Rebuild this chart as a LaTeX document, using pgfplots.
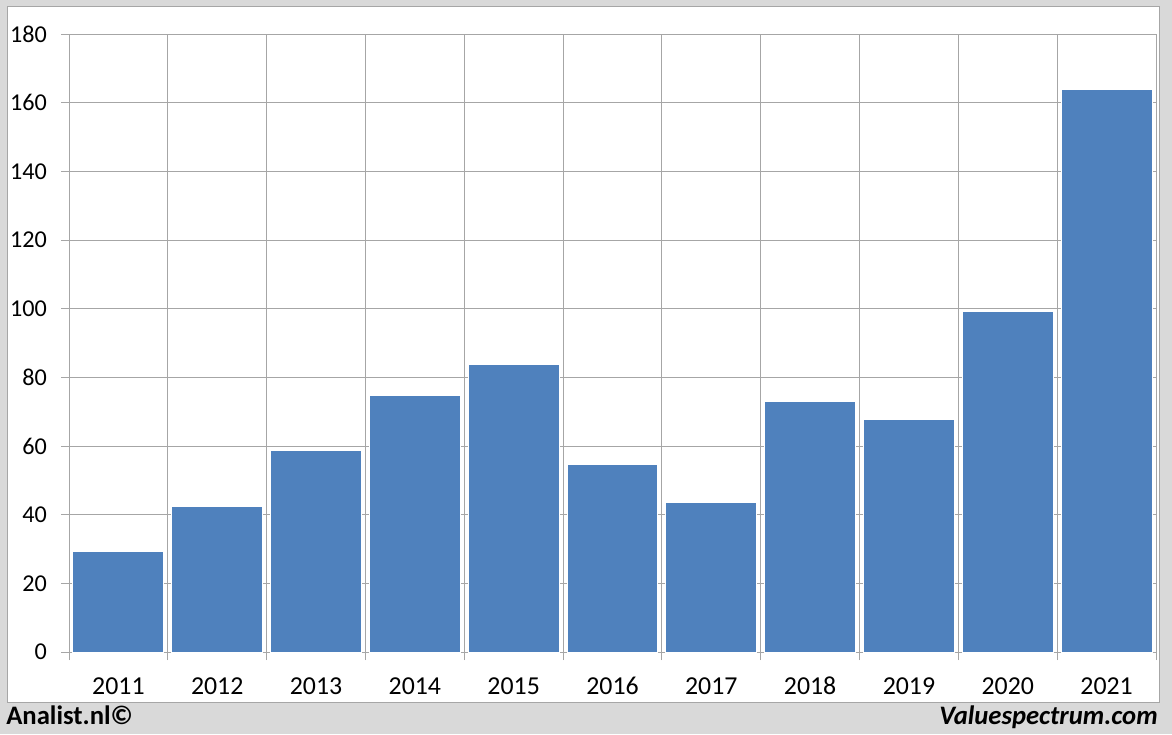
\documentclass[border=0pt]{standalone}
\usepackage{pgfplots}
\pgfplotsset{compat=1.18}
\usepackage{fontspec}
\setmainfont{Carlito}
\definecolor{barblue}{HTML}{4F81BD}
\definecolor{bggray}{HTML}{D9D9D9}
\definecolor{gridgray}{HTML}{A6A6A6}

\begin{document}
\begin{tikzpicture}[x=0.6pt,y=0.6pt]
  % frame: grey background, white panel
  \fill[bggray] (0,0) rectangle (1172,734);
  \fill[white] (7,32) rectangle (1159,727);
  \draw[gray!70,line width=0.6pt] (7,32) rectangle (1159,727);

  \begin{axis}[
    at={(41.4pt,49.2pt)}, anchor=south west,
    scale only axis,
    width=652.2pt, height=370.8pt,
    xmin=-0.5, xmax=10.5,
    ymin=0, ymax=180,
    ytick={0,20,...,180},
    xtick={0,...,10},
    xticklabels={2011,2012,2013,2014,2015,2016,2017,2018,2019,2020,2021},
    minor xtick={-0.5,0.5,...,10.5},
    major x tick style={draw=none},
    xminorgrids, ymajorgrids,
    grid style={gridgray, line width=0.6pt},
    axis line style={gridgray, line width=0.6pt},
    tick style={gridgray, line width=0.6pt},
    tick align=outside,
    major tick length=4.8pt, minor tick length=4.8pt,
    axis x line*=bottom, axis y line*=left,
    ticklabel style={text=black},
    yticklabel style={font=\fontsize{14.5}{16}\selectfont, xshift=-5pt},
    xticklabel style={font=\fontsize{15.5}{17}\selectfont, yshift=-6pt,
      text height=11pt, text depth=0pt},
    /pgf/number format/assume math mode=true,
    ybar, bar width=0.92, bar shift=0pt,
  ]
    \addplot[fill=barblue, draw=white, line width=0.6pt] coordinates {
      (0, 29.4)
      (1, 42.5)
      (2, 58.8)
      (3, 74.6)
      (4, 83.6)
      (5, 54.5)
      (6, 43.4)
      (7, 73.1)
      (8, 67.6)
      (9, 99.3)
      (10, 163.7)
    };
  \end{axis}

  \node[anchor=base west, font=\fontsize{16}{19}\selectfont\bfseries, inner sep=0pt] at (6,10) {Analist.nl©};
  \node[anchor=base east, font=\fontsize{16}{19}\selectfont\bfseries\itshape, inner sep=0pt] at (1158,10) {Valuespectrum.com};
\end{tikzpicture}
\end{document}
